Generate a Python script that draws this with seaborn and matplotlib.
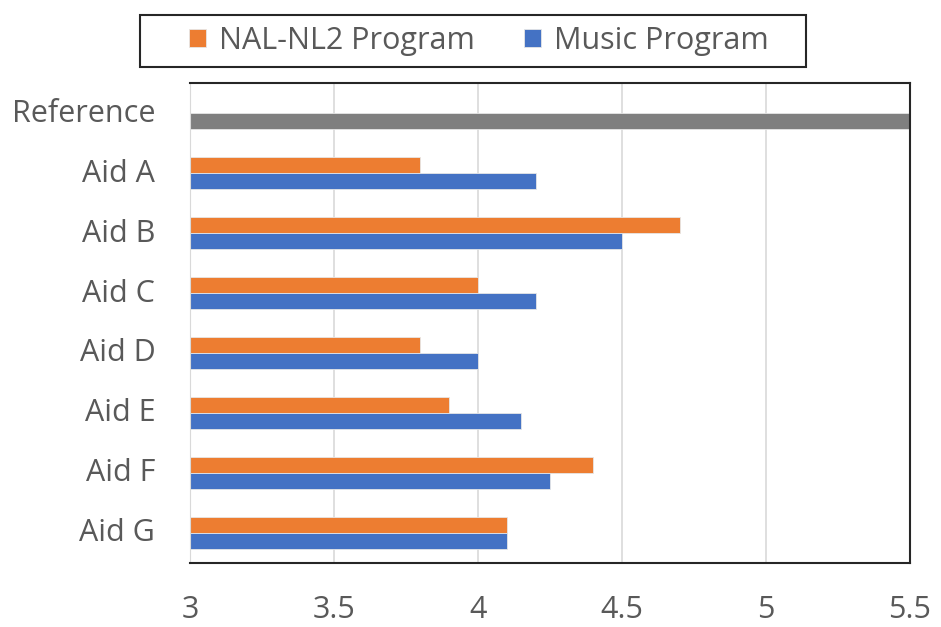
import matplotlib
matplotlib.use("Agg")
import matplotlib.pyplot as plt
from matplotlib.patches import Rectangle
from matplotlib.transforms import ScaledTranslation
import numpy as np
import pandas as pd
import seaborn as sns

# chart data
categories = ["Reference", "Aid A", "Aid B", "Aid C", "Aid D", "Aid E", "Aid F", "Aid G"]
nal_nl2 = [np.nan, 3.8, 4.7, 4.0, 3.8, 3.9, 4.4, 4.1]
music = [5.5, 4.2, 4.5, 4.2, 4.0, 4.15, 4.25, 4.1]
programs = ["NAL-NL2 Program", "Music Program"]
xticks = [3, 3.5, 4, 4.5, 5, 5.5]
xticklabels = ["3", "3.5", "4", "4.5", "5", "5.5"]

colors = {"NAL-NL2 Program": "#ED7D31", "Music Program": "#4472C4"}
grey = "#7F7F7F"
text_color = "#595959"

df = pd.DataFrame({
    "Aid": categories * 2,
    "Program": [programs[0]] * len(categories) + [programs[1]] * len(categories),
    "Score": nal_nl2 + music,
})

sns.set_style("white")
plt.rcParams["font.family"] = ["Open Sans", "DejaVu Sans"]

fig = plt.figure(figsize=(9.41, 6.27), dpi=100)
ax = fig.add_axes([0.2019, 0.1021, 0.7651, 0.7655])

sns.barplot(data=df, x="Score", y="Aid", hue="Program", hue_order=programs,
            order=categories, palette=colors, width=0.54, orient="h", ax=ax,
            saturation=1, linewidth=0.6, edgecolor="#E6E6E6")

# the reference bar sits in the music slot but is drawn grey
music_bars = ax.containers[1]
ref_bar = min(music_bars, key=lambda p: p.get_y())
ref_bar.set_facecolor(grey)

ax.set_xlim(3, 5.5)
ax.set_xticks(xticks)
ax.set_xticklabels(xticklabels)
ax.set_xlabel("")
ax.set_ylabel("")
ax.xaxis.grid(True, color="#D9D9D9", linewidth=1.2)
ax.set_axisbelow(True)
ax.tick_params(axis="both", length=0, labelsize=22, colors=text_color)
ax.tick_params(axis="y", pad=25)
ax.tick_params(axis="x", pad=23)
for lab in ax.get_yticklabels():
    lab.set_transform(lab.get_transform() + ScaledTranslation(0, 0.03, fig.dpi_scale_trans))

ax.spines["left"].set_color("#D9D9D9")
for side in ["top", "right", "bottom"]:
    ax.spines[side].set_color("#262626")
    ax.spines[side].set_linewidth(1.5)

handles, labels = ax.get_legend_handles_labels()
if ax.get_legend() is not None:
    ax.get_legend().remove()

# legend box
fig.patches.append(Rectangle((140 / 941, 1 - 67 / 627), 666 / 941, 52 / 627,
                             transform=fig.transFigure, fill=False,
                             edgecolor="#262626", linewidth=1.5))
leg = fig.legend(handles, labels, loc="center", bbox_to_anchor=(479 / 941, 1 - 41 / 627),
                 ncol=2, fontsize=22, frameon=False,
                 handlelength=0.55, handleheight=0.55, handletextpad=0.43,
                 columnspacing=1.6, borderpad=0.2)
for t in leg.get_texts():
    t.set_color(text_color)

fig.savefig("out.png", dpi=100)
